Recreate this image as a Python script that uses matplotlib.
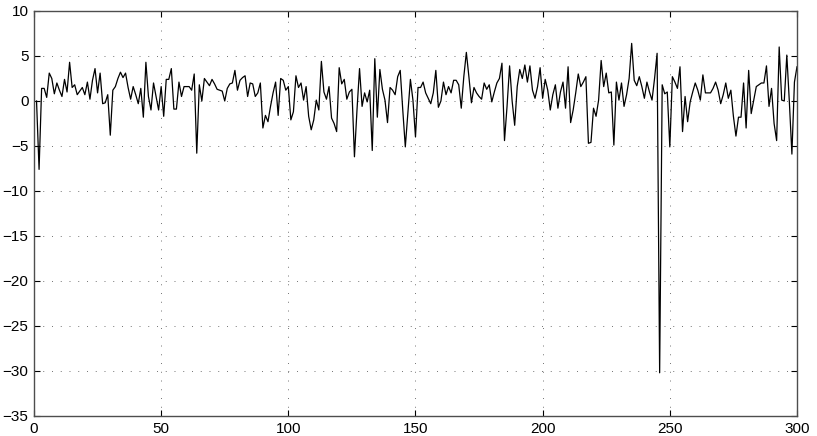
import numpy as np
import matplotlib
matplotlib.use('Agg')
import matplotlib.pyplot as plt

# sample values, index 1..300
values = [
    0.0, -7.6, 1.4, 1.4, 0.4, 3.1, 2.5, 0.8, 2.0, 1.2,
    0.5, 2.4, 1.0, 4.3, 1.5, 1.8, 0.7, 1.1, 1.5, 0.7,
    2.1, 0.2, 2.3, 3.6, 0.9, 3.1, -0.3, -0.2, 0.7, -3.8,
    1.2, 1.6, 2.5, 3.2, 2.6, 3.1, 1.5, 0.2, 1.6, 0.7,
    -0.3, 1.4, -1.8, 4.3, 0.5, -1.0, 2.0, 0.5, -1.0, 1.6,
    -1.7, 2.4, 2.4, 3.6, -0.9, -0.9, 2.1, 0.5, 1.6, 1.6,
    1.6, 1.2, 3.0, -5.8, 1.8, 0.0, 2.5, 2.1, 1.7, 2.4,
    1.9, 1.3, 1.2, 1.1, 0.0, 1.4, 1.9, 2.0, 3.4, 1.2,
    2.3, 2.6, 2.8, 0.5, 2.0, 1.9, 0.5, 0.9, 2.0, -3.0,
    -1.6, -2.3, -0.6, 0.9, 2.1, -1.6, 2.5, 2.3, 1.2, 1.6,
    -2.1, -1.2, 2.8, 1.5, 2.0, 0.1, 1.6, -1.7, -3.2, -2.1,
    0.1, -1.0, 4.4, 1.0, 0.2, 1.6, -1.9, -2.5, -3.4, 3.7,
    1.9, 2.4, 0.2, 1.0, 1.3, -6.2, -1.0, 3.6, -0.6, 0.9,
    -0.1, 1.2, -5.5, 4.7, -1.8, 3.5, 1.3, 0.1, -2.4, 1.5,
    1.2, 0.7, 2.7, 3.4, -1.0, -5.1, -1.4, 2.4, 0.1, -4.0,
    1.5, 1.5, 2.1, 0.9, 0.3, -0.3, 0.9, 3.4, -0.7, 0.0,
    2.1, 0.7, 1.6, 0.9, 2.3, 2.3, 1.8, -0.8, 2.7, 5.4,
    2.7, -0.2, 1.5, 0.9, 0.5, 0.2, 2.0, 1.3, 1.8, -0.1,
    1.0, 2.0, 2.5, 4.2, -4.4, -0.6, 3.9, 0.0, -2.7, 1.6,
    3.5, 2.5, 4.0, 2.1, 3.9, 1.2, 0.3, 1.6, 3.7, 0.3,
    2.4, 1.2, -1.0, 0.7, 1.8, -0.8, 1.0, 2.1, -0.8, 3.8,
    -2.4, -1.0, 0.9, 3.0, 1.6, 2.1, 2.7, -4.7, -4.6, -0.8,
    -1.7, 0.1, 4.5, 1.6, 3.1, 0.9, 1.0, -4.9, 2.1, 0.1,
    2.0, -0.6, 0.7, 2.5, 6.4, 2.3, 1.7, 2.7, 1.6, 0.3,
    2.1, 1.0, 0.1, 2.5, 5.3, -30.2, 1.8, 0.8, 1.0, -5.1,
    2.7, 2.1, 1.4, 3.8, -3.4, 0.5, -2.3, -0.1, 1.0, 2.0,
    1.2, 0.1, 2.9, 0.9, 0.9, 0.9, 1.4, 2.1, 1.2, -0.3,
    0.7, 2.0, 0.3, 1.2, -1.7, -3.9, -1.8, -1.8, 2.0, -3.0,
    3.4, -1.4, 0.1, 1.6, 1.8, 2.0, 2.0, 3.9, -0.6, 1.4,
    -2.5, -4.4, 6.0, 0.1, 0.0, 5.1, -0.1, -5.9, 2.1, 3.8,
]
x_ticks = [0, 50, 100, 150, 200, 250, 300]
y_ticks = [-35, -30, -25, -20, -15, -10, -5, 0, 5, 10]

plt.rcParams['font.family'] = ['Liberation Sans', 'DejaVu Sans']

fig = plt.figure(figsize=(8.17, 4.36), dpi=100)
ax = fig.add_axes([0.0416, 0.0459, 0.9339, 0.9289])

n = np.arange(1, len(values) + 1)
ax.plot(n, values, color='black', linewidth=0.9)

ax.set_xlim(0, 300)
ax.set_ylim(-35, 10)
ax.set_xticks(x_ticks)
ax.set_yticks(y_ticks)
ax.set_yticklabels([str(v).replace('-', '\u2212') for v in y_ticks])

ax.grid(True, color='0.45', linestyle=(0, (1, 8)), linewidth=0.7)
ax.tick_params(direction='in', length=4, width=0.8, top=True, right=True,
               labelsize=11, pad=4, colors='black')
for s in ax.spines.values():
    s.set_color('0.3')
    s.set_linewidth(1.0)

fig.savefig('out.png', dpi=100)
